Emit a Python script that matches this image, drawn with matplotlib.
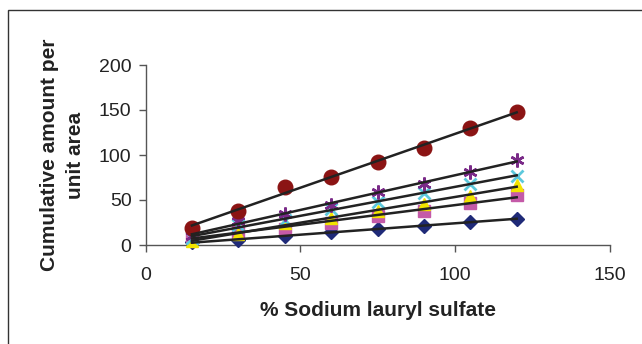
import matplotlib.pyplot as plt
import numpy as np
from matplotlib.patches import Rectangle

# ------------------------------------------------------------
# Dati
# ------------------------------------------------------------

sls_percent = [15, 30, 45, 60, 75, 90, 105, 120]

series_circle = [19, 38, 65, 76, 92, 108, 130, 148]
series_star = [10, 27, 35, 45, 59, 68, 81, 94]
series_cross = [8, 22, 28, 40, 48, 58, 68, 77]
series_triangle = [5, 12, 25, 30, 38, 46, 55, 67]
series_square = [10, 15, 18, 25, 32, 38, 47, 56]
series_diamond = [3, 6, 10, 14, 18, 21, 26, 29]

x_ticks = [0, 50, 100, 150]
y_ticks = [0, 50, 100, 150, 200]

plt.rcParams["font.family"] = ["Liberation Sans", "DejaVu Sans"]

fig = plt.figure(figsize=(6.42, 3.44), dpi=100)
fig.patches.append(
    Rectangle((7.5 / 642, -0.05), 1.0, 1 - 10 / 344 + 0.05,
              transform=fig.transFigure, fill=False,
              edgecolor="#333333", linewidth=1.0)
)

ax = fig.add_axes([145.5 / 642, 1 - 245 / 344, 464 / 642, 180 / 344])

styles = [
    (series_diamond, "D", "#1f2a78", 7.5, None),
    (series_square, "s", "#c45aa8", 8.5, None),
    (series_triangle, "^", "#f2e400", 9, None),
    (series_cross, "x", "#5cc8dc", 9, 2.0),
    (series_star, (6, 2, 0), "#7a2a88", 10, 1.8),
    (series_circle, "o", "#8b1414", 10.5, None),
]

x = np.array(sls_percent, dtype=float)

for values, marker, color, size, mew in styles:
    kwargs = {"markeredgecolor": color}
    if mew is not None:
        kwargs["markeredgewidth"] = mew
    ax.plot(x, values, linestyle="none", marker=marker, color=color,
            markersize=size, zorder=3, clip_on=False, **kwargs)

# linee di tendenza lineari
for values, marker, color, size, mew in styles:
    slope, intercept = np.polyfit(x, values, 1)
    ax.plot([x[0], x[-1]],
            [slope * x[0] + intercept, slope * x[-1] + intercept],
            color="#222222", linewidth=1.8, zorder=4)

ax.set_xlim(0, 150)
ax.set_ylim(0, 200)
ax.set_xticks(x_ticks)
ax.set_yticks(y_ticks)

for side in ["top", "right"]:
    ax.spines[side].set_visible(False)
for side in ["left", "bottom"]:
    ax.spines[side].set_color("#555555")
    ax.spines[side].set_linewidth(1.0)

ax.tick_params(direction="out", length=5, width=1.0, colors="#555555",
               labelsize=14, labelcolor="#222222")
ax.tick_params(axis="x", pad=11)
ax.tick_params(axis="y", pad=5)

ax.set_xlabel("% Sodium lauryl sulfate", fontsize=15, fontweight="bold",
              labelpad=12, color="#222222")
ax.set_ylabel("Cumulative amount per\nunit area", fontsize=15,
              fontweight="bold", labelpad=10, color="#222222",
              linespacing=1.5)

fig.savefig("out.png", dpi=100)
plt.close(fig)
